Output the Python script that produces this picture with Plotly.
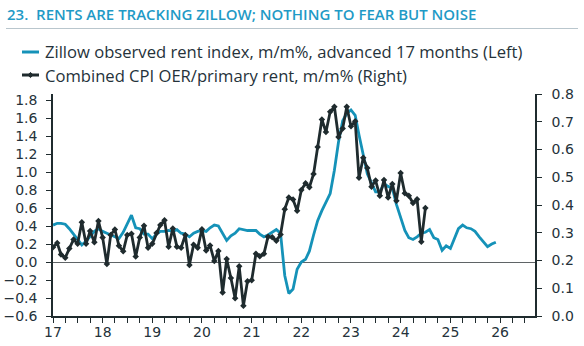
import pandas as pd
import plotly.graph_objects as go

# ---- data ----
zillow_start = "2017-01-01"
zillow_vals = [0.41,0.43,0.43,0.42,0.37,0.31,0.25,0.19,0.23,0.29,0.34,0.37,
 0.34,0.32,0.30,0.28,0.26,0.33,0.42,0.52,0.38,0.37,0.31,0.31,
 0.26,0.31,0.34,0.34,0.35,0.34,0.36,0.32,0.31,0.28,0.32,0.34,
 0.35,0.34,0.38,0.41,0.40,0.32,0.24,0.29,0.32,0.37,0.36,0.35,
 0.35,0.35,0.31,0.28,0.30,0.33,0.36,0.32,-0.15,-0.35,-0.30,-0.08,
 0.00,0.03,0.12,0.30,0.46,0.57,0.66,0.76,1.02,1.33,1.57,1.65,
 1.69,1.63,1.41,1.20,0.98,0.88,0.78,0.78,0.87,0.84,0.82,0.64,
 0.48,0.35,0.27,0.25,0.28,0.32,0.33,0.36,0.27,0.25,0.13,0.18,
 0.15,0.27,0.37,0.41,0.38,0.37,0.34,0.28,0.22,0.17,0.20,0.22]

cpi_start = "2017-01-01"
cpi_vals = [0.248,0.263,0.222,0.210,0.243,0.276,0.260,0.338,0.260,0.306,0.266,0.342,
 0.283,0.187,0.292,0.312,0.253,0.233,0.292,0.296,0.214,0.283,0.325,0.246,
 0.260,0.299,0.328,0.345,0.250,0.315,0.250,0.246,0.292,0.184,0.257,0.246,
 0.313,0.236,0.254,0.198,0.234,0.085,0.205,0.137,0.064,0.179,0.037,0.125,
 0.129,0.224,0.215,0.224,0.286,0.284,0.271,0.294,
 0.385,0.427,0.420,0.379,0.454,0.478,0.464,0.512,0.609,0.708,0.663,0.736,
 0.754,0.645,0.676,0.754,0.684,0.702,0.498,0.570,0.533,0.466,0.488,0.433,
 0.490,0.427,0.476,0.415,0.515,0.442,0.433,0.407,0.421,0.268,0.389]

zillow_name = "Zillow observed rent index, m/m%, advanced 17 months (Left)"
cpi_name = "Combined CPI OER/primary rent, m/m% (Right)"
title_text = "23.  RENTS ARE TRACKING ZILLOW; NOTHING TO FEAR BUT NOISE"

zillow_dates = pd.date_range(zillow_start, periods=len(zillow_vals), freq="MS")
cpi_dates = pd.date_range(cpi_start, periods=len(cpi_vals), freq="MS")

TEAL = "#1592b8"
DARK = "#1f2b2e"
TXT = "#25323a"
FONT = "Open Sans"
TICKFONT = "DejaVu Sans"

W, H = 584, 346
L, R, T, B = 53, 49, 94, 30
pw, ph = W - L - R, H - T - B

def px_x(p):
    return (p - L) / pw

def px_y(p):
    return 1 - (p - T) / ph

fig = go.Figure()
fig.add_trace(go.Scatter(x=zillow_dates, y=zillow_vals, name=zillow_name,
                         mode="lines", line=dict(color=TEAL, width=2.8),
                         yaxis="y", showlegend=False))
fig.add_trace(go.Scatter(x=cpi_dates, y=cpi_vals, name=cpi_name,
                         mode="lines+markers", line=dict(color=DARK, width=2.8),
                         marker=dict(symbol="diamond", size=5, color=DARK),
                         yaxis="y2", showlegend=False))

# manual legend (shapes + text)
leg_rows = [(52, zillow_name, TEAL, False), (75, cpi_name, DARK, True)]
shapes = [dict(type="line", xref="paper", yref="paper",
               x0=px_x(6), x1=px_x(578), y0=px_y(28.5), y1=px_y(28.5),
               line=dict(color="#b9c6cd", width=1))]
annotations = []
for yy, name, col, mk in leg_rows:
    shapes.append(dict(type="line", xref="paper", yref="paper",
                       x0=px_x(22), x1=px_x(39), y0=px_y(yy), y1=px_y(yy),
                       line=dict(color=col, width=3)))
    if mk:
        cx, d = 30.5, 2.6
        path = "M {} {} L {} {} L {} {} L {} {} Z".format(
            px_x(cx - d), px_y(yy), px_x(cx), px_y(yy - d),
            px_x(cx + d), px_y(yy), px_x(cx), px_y(yy + d))
        shapes.append(dict(type="path", xref="paper", yref="paper", path=path,
                           fillcolor=col, line=dict(color=col, width=1)))
    annotations.append(dict(text=name, xref="paper", yref="paper",
                            x=px_x(43), y=px_y(yy), xanchor="left",
                            yanchor="middle", showarrow=False,
                            font=dict(family=FONT, size=16.6, color=TXT)))

fig.update_layout(
    width=W, height=H,
    margin=dict(l=L, r=R, t=T, b=B, autoexpand=False),
    paper_bgcolor="white", plot_bgcolor="white",
    font=dict(family=FONT, color=TXT, size=14),
    title=dict(text=title_text, x=7 / W, xanchor="left", y=1 - 15 / H,
               yanchor="middle", xref="container", yref="container",
               font=dict(family=FONT, size=15, color="#1f9ac6", weight=600)),
    showlegend=False,
    xaxis=dict(type="date", range=["2017-01-01", "2026-09-15"],
               tick0="2017-01-01", dtick="M12", tickformat="%y",
               ticks="outside", ticklen=5, tickcolor=DARK, tickwidth=1,
               showline=True, linecolor=DARK, linewidth=1.5,
               showgrid=False, zeroline=False, ticklabelstandoff=-3,
               automargin=False,
               tickfont=dict(family=TICKFONT, size=14, color=TXT),
               minor=dict(dtick="M3", ticks="outside", ticklen=5,
                          tickcolor=DARK, tickwidth=1, showgrid=False)),
    yaxis=dict(range=[-0.6, 1.8667], dtick=0.2, tick0=0, tickformat=".1f",
               ticks="outside", ticklen=5, tickcolor=DARK,
               showline=True, linecolor=DARK, linewidth=1.5,
               showgrid=False, zeroline=True, zerolinecolor="#5f6466",
               zerolinewidth=1.2, ticklabelstandoff=6, automargin=False,
               tickfont=dict(family=TICKFONT, size=14, color=TXT)),
    yaxis2=dict(range=[0, 0.8], dtick=0.1, tick0=0, tickformat=".1f",
                overlaying="y", side="right",
                ticks="outside", ticklen=5, tickcolor=DARK,
                showline=True, linecolor=DARK, linewidth=1.5,
                showgrid=False, zeroline=False, ticklabelstandoff=7,
                automargin=False,
                tickfont=dict(family=TICKFONT, size=14, color=TXT)),
    shapes=shapes,
    annotations=annotations,
)

fig.write_html("out.html")
